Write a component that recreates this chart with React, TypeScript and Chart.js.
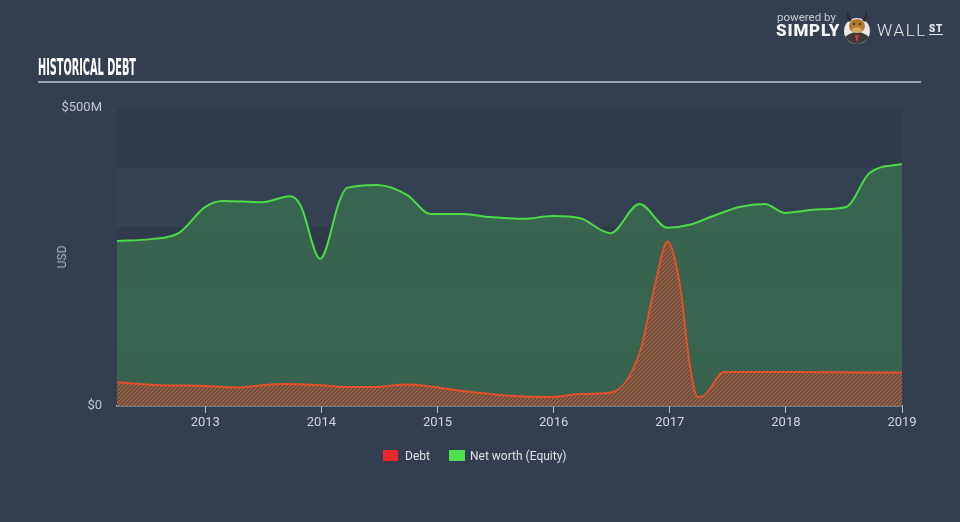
import React, { useEffect, useRef } from "react";
import { Chart, registerables } from "chart.js";

Chart.register(...registerables);

// ---- data ----
const debtYears = [
  2012.24, 2012.61, 2012.96, 2013.26, 2013.65, 2013.99, 2014.2, 2014.46, 2014.72, 2014.89,
  2015.15, 2015.37, 2015.62, 2015.97, 2016.23, 2016.5, 2016.74, 2016.87, 2016.98, 2017.09,
  2017.17, 2017.24, 2017.3, 2017.47, 2018.12, 2019.0,
];
const debtValues = [
  40, 35, 34, 31, 37, 35, 32, 32, 36, 34,
  27, 22, 17, 15, 20, 23, 89, 200, 276, 200,
  72, 15, 18, 57, 57, 56,
];
const equityYears = [
  2012.24, 2012.53, 2012.77, 2013.0, 2013.15, 2013.49, 2013.73, 2013.82, 2013.99, 2014.16,
  2014.22, 2014.48, 2014.74, 2014.94, 2015.22, 2015.45, 2015.74, 2015.99, 2016.23, 2016.49,
  2016.74, 2016.98, 2017.17, 2017.39, 2017.6, 2017.82, 2017.99, 2018.29, 2018.52, 2018.72,
  2019.0,
];
const equityValues = [
  277, 280, 290, 334, 344, 342, 352, 337, 247, 346,
  366, 371, 354, 322, 322, 317, 314, 319, 315, 290,
  339, 299, 304, 320, 334, 339, 324, 330, 334, 391,
  406,
];
const xTickYears = [2013, 2014, 2015, 2016, 2017, 2018, 2019];
const yTickValues = [0, 500];
const yTickLabels = ["$0", "$500M"];
const bandValues = [0, 100, 200, 300, 400, 500];
const seriesNames = ["Debt", "Net worth (Equity)"];
const xMin = 2012.24;
const xMax = 2019.0;

const BG = "#333f50";

function makeHatch(): CanvasPattern | string {
  const c = document.createElement("canvas");
  c.width = 4;
  c.height = 4;
  const g = c.getContext("2d");
  if (!g) return "rgba(200,90,50,0.5)";
  g.fillStyle = "rgba(70,60,70,0.22)";
  g.fillRect(0, 0, 4, 4);
  g.strokeStyle = "rgba(236,82,48,0.85)";
  g.lineWidth = 1.25;
  g.beginPath();
  g.moveTo(0, 4);
  g.lineTo(4, 0);
  g.moveTo(-1, 1);
  g.lineTo(1, -1);
  g.moveTo(3, 5);
  g.lineTo(5, 3);
  g.stroke();
  return g.createPattern(c, "repeat") || "rgba(200,90,50,0.5)";
}

const bandsPlugin = {
  id: "bands",
  beforeDatasetsDraw(chart: any) {
    const { ctx, chartArea: a, scales } = chart;
    const y = scales.y;
    ctx.save();
    for (let i = 0; i < bandValues.length - 1; i++) {
      const top = y.getPixelForValue(bandValues[i + 1]);
      const bot = y.getPixelForValue(bandValues[i]);
      ctx.fillStyle = i % 2 === 0 ? "rgba(22,30,42,0.13)" : "rgba(70,90,115,0.10)";
      ctx.fillRect(a.left, top, a.right - a.left, bot - top);
    }
    ctx.restore();
  },
};

function fitScale(text: string, font: string, target: number): number {
  const c = document.createElement("canvas").getContext("2d");
  if (!c) return 0.5;
  c.font = font;
  const w = c.measureText(text).width;
  return w > 0 ? target / w : 0.5;
}

function BullIcon() {
  return (
    <svg width="30" height="36" viewBox="0 0 30 36" style={{ position: "absolute", left: 842, top: 9 }}>
      <circle cx="15" cy="22" r="13" fill="#e8e8e8" />
      <path d="M3 28 Q15 18 27 28 Q22 35 15 35 Q8 35 3 28 Z" fill="#3a3a3a" />
      <path d="M13 26 L15 34 L17 26 Z" fill="#d33" />
      <ellipse cx="15" cy="17" rx="8" ry="7" fill="#b07a2a" />
      <ellipse cx="15" cy="21" rx="5" ry="3" fill="#d9a860" />
      <path d="M7 13 Q3 8 6 2 Q7 9 10 11 Z" fill="#2b2b2b" />
      <path d="M23 13 Q27 8 24 2 Q23 9 20 11 Z" fill="#2b2b2b" />
      <circle cx="12" cy="15" r="1" fill="#222" />
      <circle cx="18" cy="15" r="1" fill="#222" />
    </svg>
  );
}

export default function App() {
  const canvasRef = useRef<HTMLCanvasElement | null>(null);

  useEffect(() => {
    const canvas = canvasRef.current;
    if (!canvas) return;
    const hatch = makeHatch();
    const chart = new Chart(canvas, {
      type: "line",
      data: {
        datasets: [
          {
            label: seriesNames[0],
            data: debtYears.map((x, i) => ({ x, y: debtValues[i] })),
            borderColor: "#e4502b",
            borderWidth: 2,
            backgroundColor: hatch as any,
            fill: "origin",
            pointRadius: 0,
            cubicInterpolationMode: "monotone",
          },
          {
            label: seriesNames[1],
            data: equityYears.map((x, i) => ({ x, y: equityValues[i] })),
            borderColor: "#4cdc45",
            borderWidth: 2,
            backgroundColor: "rgba(58,106,80,0.88)",
            fill: "origin",
            pointRadius: 0,
            cubicInterpolationMode: "monotone",
          },
        ],
      },
      options: {
        animation: false,
        responsive: false,
        maintainAspectRatio: false,
        layout: { padding: { left: 0, top: 108, right: 58, bottom: 0 } },
        plugins: { legend: { display: false }, tooltip: { enabled: false } },
        scales: {
          x: {
            type: "linear",
            min: xMin,
            max: xMax,
            afterBuildTicks: (s: any) => {
              s.ticks = xTickYears.map((v) => ({ value: v }));
            },
            afterFit: (s: any) => {
              s.height = 116;
            },
            grid: { drawOnChartArea: false, drawTicks: true, tickLength: 7, color: "#b7bfca", lineWidth: 1 },
            border: { display: true, color: "#b7bfca", width: 1.5 },
            ticks: {
              padding: 2,
              color: "#d2d6dc",
              font: { family: "Roboto", size: 13 },
              maxRotation: 0,
              autoSkip: false,
              callback: (v: any) => String(v),
            },
          },
          y: {
            min: 0,
            max: 500,
            afterBuildTicks: (s: any) => {
              s.ticks = yTickValues.map((v) => ({ value: v }));
            },
            afterFit: (s: any) => {
              s.width = 117;
            },
            grid: { display: false, drawTicks: false },
            border: { display: false },
            ticks: {
              padding: 15,
              color: "#c3c8cf",
              font: { family: "Roboto", size: 13 },
              callback: (v: any) => {
                const i = yTickValues.indexOf(Number(v));
                return i >= 0 ? yTickLabels[i] : "";
              },
            },
          },
        },
      },
      plugins: [bandsPlugin],
    });
    return () => chart.destroy();
  }, []);

  const titleFont = "bold 23px 'DejaVu Sans Condensed'";
  const titleScale = fitScale("HISTORICAL DEBT", titleFont, 98);

  return (
    <div
      style={{
        position: "absolute",
        left: 0,
        top: 0,
        width: 960,
        height: 522,
        background: BG,
        overflow: "hidden",
        fontFamily: "Roboto, sans-serif",
      }}
    >
      <canvas ref={canvasRef} width={960} height={522} style={{ position: "absolute", left: 0, top: 0 }} />

      <div
        style={{
          position: "absolute",
          left: 38,
          top: 55.5,
          font: titleFont,
          lineHeight: "23px",
          color: "#ffffff",
          whiteSpace: "nowrap",
          transform: `scaleX(${titleScale})`,
          transformOrigin: "left top",
        }}
      >
        HISTORICAL DEBT
      </div>
      <div style={{ position: "absolute", left: 38, top: 81, width: 883, height: 2, background: "#9ba4ae" }} />

      <div
        style={{
          position: "absolute",
          left: 62,
          top: 257,
          transform: "translate(-50%, -50%) rotate(-90deg)",
          fontSize: 12,
          color: "#aab2bc",
          whiteSpace: "nowrap",
        }}
      >
        USD
      </div>

      {/* logo */}
      <div style={{ position: "absolute", left: 777, top: 10, fontSize: 11.5, color: "#c8ccd2", whiteSpace: "nowrap" }}>
        powered by
      </div>
      <div
        style={{
          position: "absolute",
          left: 776,
          top: 20,
          fontSize: 17,
          fontWeight: 900,
          color: "#f2f4f6",
          letterSpacing: 0.8,
          whiteSpace: "nowrap",
        }}
      >
        SIMPLY
      </div>
      <BullIcon />
      <div
        style={{
          position: "absolute",
          left: 877,
          top: 20,
          fontSize: 17,
          fontWeight: 300,
          color: "#e6e9ec",
          letterSpacing: 1.6,
          whiteSpace: "nowrap",
        }}
      >
        WALL
      </div>
      <div
        style={{
          position: "absolute",
          left: 929,
          top: 24,
          fontSize: 10,
          fontWeight: 900,
          color: "#e6e9ec",
          borderBottom: "1.5px solid #e6e9ec",
          lineHeight: "10px",
          letterSpacing: 0.8,
          whiteSpace: "nowrap",
        }}
      >
        ST
      </div>

      {/* legend */}
      <div style={{ position: "absolute", left: 383, top: 450, width: 15, height: 11, background: "#e8282a" }} />
      <div style={{ position: "absolute", left: 405, top: 448, fontSize: 12, lineHeight: "16px", color: "#dde1e6" }}>
        {seriesNames[0]}
      </div>
      <div style={{ position: "absolute", left: 449, top: 450, width: 16, height: 11, background: "#4fe04f" }} />
      <div
        style={{
          position: "absolute",
          left: 470,
          top: 448,
          fontSize: 12,
          lineHeight: "16px",
          color: "#dde1e6",
          whiteSpace: "nowrap",
        }}
      >
        {seriesNames[1]}
      </div>
    </div>
  );
}
